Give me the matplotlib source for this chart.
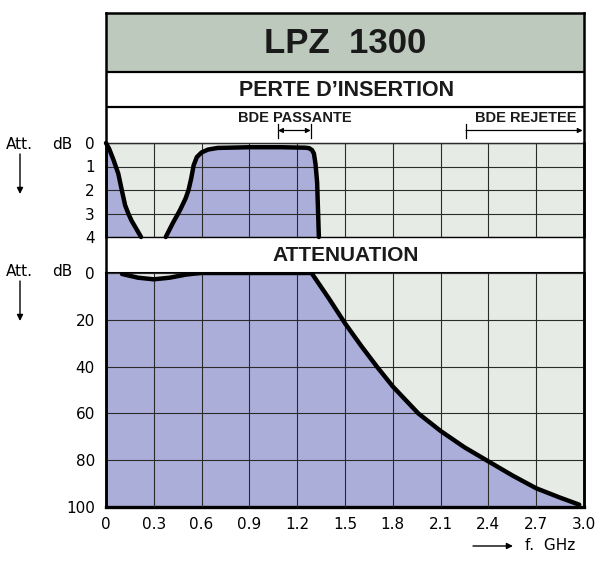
import matplotlib
matplotlib.use("Agg")
import matplotlib.pyplot as plt
from matplotlib.patches import Rectangle
from matplotlib.transforms import blended_transform_factory

# perte d'insertion (dB), the curve leaves the panel between the two pieces
il_freq_a = [0.0, 0.02, 0.046, 0.077, 0.099, 0.12, 0.14, 0.16, 0.19, 0.22]
il_db_a = [0.0, 0.25, 0.7, 1.3, 2.0, 2.65, 3.0, 3.3, 3.65, 4.0]
il_freq_b = [0.375, 0.42, 0.465, 0.5, 0.518, 0.535, 0.55, 0.57, 0.6, 0.64, 0.7, 0.9,
             1.1, 1.25, 1.275, 1.293, 1.305, 1.315, 1.325, 1.336]
il_db_b = [4.0, 3.4, 2.85, 2.35, 2.0, 1.5, 0.95, 0.6, 0.4, 0.28, 0.21, 0.18,
           0.18, 0.2, 0.22, 0.3, 0.45, 0.9, 1.67, 4.0]

# attenuation (dB)
att_freq = [0.1, 0.2, 0.3, 0.4, 0.5, 0.55, 0.6, 0.9, 1.29, 1.4, 1.5, 1.6, 1.7, 1.8,
            1.96, 2.1, 2.25, 2.4, 2.55, 2.7, 2.85, 2.97]
att_db = [0.4, 2.0, 2.7, 2.0, 0.7, 0.3, 0.0, 0.0, 0.0, 11.0, 21.5, 31.0, 40.0, 48.5,
          60.0, 67.5, 74.5, 80.5, 86.5, 92.0, 96.0, 99.0]

freq_ticks = [0, 0.3, 0.6, 0.9, 1.2, 1.5, 1.8, 2.1, 2.4, 2.7, 3.0]
freq_labels = ["0", "0.3", "0.6", "0.9", "1.2", "1.5", "1.8", "2.1", "2.4", "2.7", "3.0"]
il_ticks = [0, 1, 2, 3, 4]
att_ticks = [0, 20, 40, 60, 80, 100]

pass_band = (1.08, 1.285)
reject_from = 2.26

PURPLE = "#aaaed8"
LIGHT = "#e7ebe6"
TITLE = "#bdc9bc"
GRID = "#2b2b2b"

W, H = 600, 563
fig = plt.figure(figsize=(6, 5.63), dpi=100)


def box(l, t, r, b):
    return [l / W, 1 - b / H, (r - l) / W, (b - t) / H]


ax_il = fig.add_axes(box(106, 143, 584, 237))
ax_at = fig.add_axes(box(106, 273, 584, 507))

for ax in (ax_il, ax_at):
    ax.set_facecolor(LIGHT)
    ax.set_xlim(0, 3.0)
    ax.set_xticks(freq_ticks)
    ax.grid(True, color=GRID, lw=0.8)
    ax.set_axisbelow(False)
    ax.tick_params(length=0, labelsize=11)
    ax.tick_params(axis="y", pad=8)
    for s in ax.spines.values():
        s.set_color("black")
    ax.spines["left"].set_linewidth(1.8)
    ax.spines["right"].set_linewidth(1.8)

# top panel
ax_il.fill_between(il_freq_a, il_db_a, 4, color=PURPLE, lw=0, zorder=1)
ax_il.fill_between(il_freq_b, il_db_b, 4, color=PURPLE, lw=0, zorder=1)
for xs, ys in ((il_freq_a, il_db_a), (il_freq_b, il_db_b)):
    ax_il.plot(xs, ys, color="black", lw=3.2, solid_capstyle="round",
               solid_joinstyle="round", zorder=3, clip_on=False)
ax_il.set_ylim(4, 0)
ax_il.set_yticks(il_ticks)
ax_il.set_xticklabels([])
ax_il.spines["top"].set_linewidth(1.0)
ax_il.spines["bottom"].set_linewidth(1.0)

# bottom panel
ax_at.fill_between([0.0] + att_freq, [0.0] + att_db, 100, color=PURPLE, lw=0, zorder=1)
ax_at.plot(att_freq, att_db, color="black", lw=3.2, solid_capstyle="round",
           solid_joinstyle="round", zorder=3)
ax_at.set_ylim(100, 0)
ax_at.set_yticks(att_ticks)
ax_at.set_xticklabels(freq_labels)
ax_at.tick_params(axis="x", pad=7)
ax_at.spines["bottom"].set_linewidth(2.4)
ax_at.spines["top"].set_linewidth(1.5)

# frame with the bands, in pixel coordinates
frame = fig.add_axes(box(106, 13, 584, 507), zorder=5)
frame.set_xlim(106, 584)
frame.set_ylim(507, 13)
frame.patch.set_visible(False)
frame.set_xticks([])
frame.set_yticks([])
frame.spines["bottom"].set_visible(False)
for side in ("left", "right", "top"):
    frame.spines[side].set_linewidth(1.8)

frame.add_patch(Rectangle((106, 13), 478, 59, fc=TITLE, ec="none"))
for y in (72, 107):
    frame.plot([106, 584], [y, y], color="black", lw=1.6)

bold = dict(family="Liberation Sans", weight="bold", color="#1a1a1a")
frame.text(345, 44, "LPZ  1300", ha="center", va="center", fontsize=25, **bold)
frame.text(347, 90.5, "PERTE D\u2019INSERTION", ha="center", va="center", fontsize=15.5, **bold)
frame.text(346, 255.5, "ATTENUATION", ha="center", va="center", fontsize=15, **bold)
frame.text(295, 118, "BDE PASSANTE", ha="center", va="center", fontsize=10.5, **bold)
frame.text(526, 118, "BDE REJETEE", ha="center", va="center", fontsize=10.5, **bold)

trans = blended_transform_factory(ax_il.transData, frame.transData)
for fx in (pass_band[0], pass_band[1], reject_from):
    frame.plot([fx, fx], [124, 138], transform=trans, color="black", lw=0.9)
frame.annotate("", xy=(pass_band[0], 130.5), xytext=(pass_band[1], 130.5),
               xycoords=trans, textcoords=trans,
               arrowprops=dict(arrowstyle="<|-|>", color="black", lw=0.9,
                               mutation_scale=7, shrinkA=0, shrinkB=0))
frame.annotate("", xy=(3.0, 130.5), xytext=(reject_from, 130.5),
               xycoords=trans, textcoords=trans,
               arrowprops=dict(arrowstyle="-|>", color="black", lw=0.9,
                               mutation_scale=7, shrinkA=0, shrinkB=1))

# left labels and arrows
for y0 in (145, 272):
    frame.text(6, y0, "Att.", ha="left", va="center", fontsize=11, clip_on=False)
    frame.text(52, y0, "dB", ha="left", va="center", fontsize=11, clip_on=False)
    frame.annotate("", xy=(20, y0 + 49), xytext=(20, y0 + 9),
                   arrowprops=dict(arrowstyle="-|>", color="black", lw=1.0,
                                   mutation_scale=9, shrinkA=0, shrinkB=0),
                   annotation_clip=False)

frame.annotate("", xy=(513, 546), xytext=(473, 546),
               arrowprops=dict(arrowstyle="-|>", color="black", lw=1.0,
                               mutation_scale=9, shrinkA=0, shrinkB=0),
               annotation_clip=False)
frame.text(525, 546, "f.  GHz", ha="left", va="center", fontsize=11, clip_on=False)

fig.savefig("out.png", dpi=100)
